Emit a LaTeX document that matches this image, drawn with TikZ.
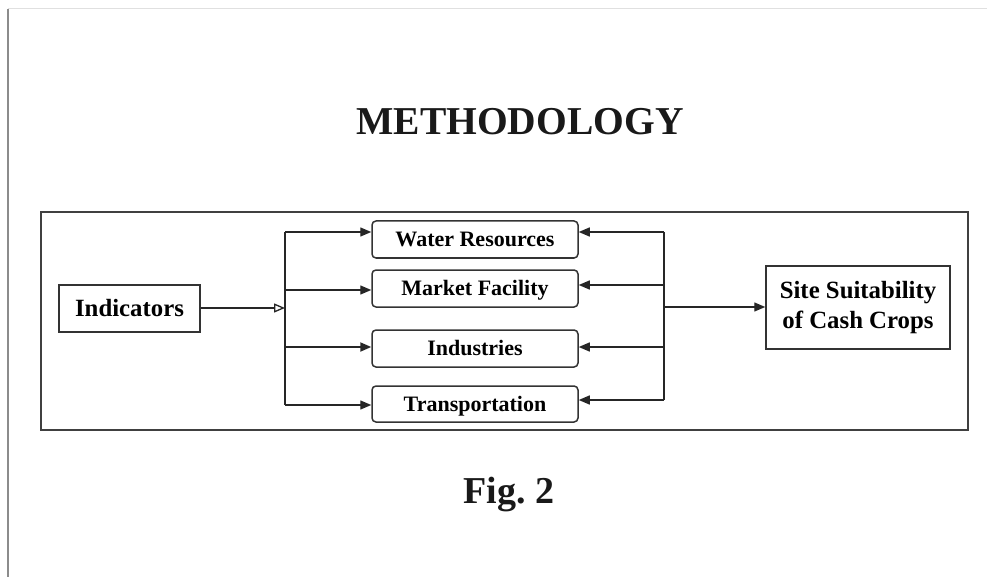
\documentclass[tikz,border=0pt]{standalone}
\usepackage{fontspec}
\setmainfont{Liberation Serif}
\usetikzlibrary{arrows.meta}
\begin{document}
\begin{tikzpicture}[x=1pt,y=-1pt,
  frame/.style={draw=black!75,line width=1.6pt},
  plainbox/.style={draw=black!80,line width=1.5pt,inner sep=0pt,align=center,font=\bfseries\fontsize{24.8}{30}\selectfont},
  midbox/.style={draw=black!80,line width=1.5pt,rounded corners=4pt,inner sep=0pt,minimum width=206pt,minimum height=37pt,text height=14.5pt,text depth=0pt,font=\bfseries\fontsize{22}{26}\selectfont},
  conn/.style={draw=black!85,line width=1.4pt},
  tip/.tip={Triangle[length=11pt,width=9pt]},
  arr/.style={conn,-tip},
  lbl/.style={font=\bfseries\fontsize{39.5}{46}\selectfont,text=black!90}
]
\useasboundingbox (0,0) rectangle (987,577);
% page edges
\draw[black!12,line width=1pt] (8,9) -- (987,9);
\draw[black!45,line width=1.2pt] (8,9) -- (8,577);
% title
\node[lbl] (title) at (520,122) {METHODOLOGY};
\node[lbl,font=\bfseries\fontsize{38}{44}\selectfont] (fig) at (509,495) {Fig.\ 2};
% outer frame
\draw[frame] (41,212) rectangle (968,430);
% nodes
\node[plainbox,minimum width=141pt,minimum height=47pt] (ind) at (129.5,308.5) {Indicators};
\node[midbox] (wat) at (475,239.5) {Water Resources};
\node[midbox] (mkt) at (475,288.5) {Market Facility};
\node[midbox] (indu) at (475,348.5) {Industries};
\node[midbox,minimum height=36pt] (tra) at (475,404) {Transportation};
\node[plainbox,minimum width=184pt,minimum height=83pt] (site) at (858,307.5) {Site Suitability\\of Cash Crops};
% bus coordinates
\coordinate (lb0) at (285,308);
\coordinate (lb1) at (285,232);
\coordinate (lb2) at (285,290);
\coordinate (lb3) at (285,347);
\coordinate (lb4) at (285,405);
\coordinate (rb0) at (664,307);
\coordinate (rb1) at (664,232);
\coordinate (rb2) at (664,285);
\coordinate (rb3) at (664,347);
\coordinate (rb4) at (664,400);
% left side
\draw[conn,line width=2.2pt,-{Triangle[length=11pt,width=9pt,open,line width=1.3pt]}] (ind.east |- lb0) -- (lb0);
\draw[conn] (lb1) -- (lb4);
\draw[arr] (lb1) -- (lb1 -| wat.west);
\draw[arr] (lb2) -- (lb2 -| mkt.west);
\draw[arr,line width=2pt] (lb3) -- (lb3 -| indu.west);
\draw[arr] (lb4) -- (lb4 -| tra.west);
% right side
\draw[conn] (rb1) -- (rb4);
\draw[arr] (rb1) -- (rb1 -| wat.east);
\draw[arr] (rb2) -- (rb2 -| mkt.east);
\draw[arr] (rb3) -- (rb3 -| indu.east);
\draw[arr] (rb4) -- (rb4 -| tra.east);
\draw[arr] (rb0) -- (rb0 -| site.west);
\end{tikzpicture}
\end{document}
